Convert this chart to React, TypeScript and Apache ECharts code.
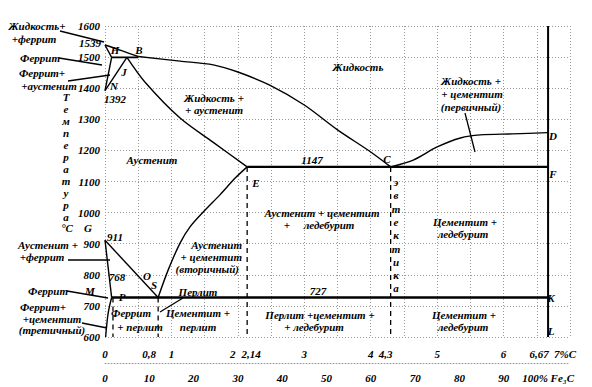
import React, { useEffect, useRef } from "react";
import * as echarts from "echarts";

// ---- data (x = %C, y = °C) ----
const liquidusAB = [[0, 1539], [0.25, 1521], [0.5, 1502]];
const liquidusBC = [[0.5, 1502], [1.13, 1487], [1.63, 1475], [2.0, 1452], [2.48, 1410], [3.0, 1346], [3.5, 1266], [4.0, 1195], [4.3, 1147]];
const liquidusCD = [[4.3, 1147], [4.64, 1169], [5.0, 1211], [5.35, 1240], [5.65, 1250], [6.14, 1253], [6.67, 1257]];
const lineAH = [[0, 1539], [0.1, 1499]];
const lineHN = [[0.1, 1499], [0, 1392]];
const lineHB = [[0.1, 1499], [0.5, 1499]];
const lineJN = [[0.33, 1499], [0, 1392]];
const solidusJE = [[0.33, 1499], [0.6, 1420], [1.13, 1304], [1.63, 1226], [2.14, 1147]];
const eutecticEF = [[2.14, 1147], [6.67, 1147]];
const eutectoidPK = [[0.1, 727], [6.67, 727]];
const lineGS = [[0, 911], [0.8, 727]];
const lineGP = [[0, 911], [0.1, 727]];
const linePQ = [[0.1, 727], [0.05, 680], [0.02, 625], [0.01, 600]];
const lineSE = [[0.8, 727], [0.95, 815], [1.13, 902], [1.28, 954], [1.48, 1002], [1.73, 1057], [1.96, 1111], [2.14, 1147]];
const cementiteDL = [[6.67, 1600], [6.67, 600]];
const dashedLines = [
  [[0.12, 727], [0.12, 600]],
  [[0.8, 727], [0.8, 600]],
  [[2.14, 1147], [2.14, 600]],
  [[4.3, 1147], [4.3, 600]],
];

const carbonTicks = [0, 0.8, 1, 2, 2.14, 3, 4, 4.3, 5, 6, 6.67, 7];
const carbonTickLabels = ["0", "0,8", "1", "2", "2,14", "3", "4", "4,3", "5", "6", "6,67", "7%C"];
const fe3cTicks = [0, 10, 20, 30, 40, 50, 60, 70, 80, 90, 100];
const fe3cTickLabels = ["0", "10", "20", "30", "40", "50", "60", "70", "80", "90", "100% Fe₃C"];
const tempTicks = [600, 700, 800, 900, 1000, 1100, 1200, 1300, 1400, 1500, 1600];

const FONT_FAMILY = "'Liberation Serif', 'Times New Roman', serif";
const FONT = `italic bold 11px ${FONT_FAMILY}`;

function txt(text: string, x: number, y: number, align = "center") {
  return {
    type: "text",
    x,
    y,
    z: 100,
    silent: true,
    style: {
      text,
      font: FONT,
      fill: "#000",
      align,
      verticalAlign: "middle",
      textAlign: align,
      textVerticalAlign: "middle",
    },
  };
}
function ln(x1: number, y1: number, x2: number, y2: number) {
  return {
    type: "line",
    z: 100,
    silent: true,
    shape: { x1, y1, x2, y2 },
    style: { stroke: "#000", lineWidth: 1.3 },
  };
}

const tempWord = ["Т", "е", "м", "п", "е", "р", "а", "т", "у", "р", "а"];
const eutWord = ["э", "в", "т", "е", "к", "т", "и", "к", "а"];

export default function App() {
  const ref = useRef<HTMLDivElement>(null);
  useEffect(() => {
    document.body.style.margin = "0";
    const chart = echarts.init(ref.current!, null, { renderer: "svg" });
    const mk = (data: number[][], width = 1.4, smooth: any = false, type: any = "solid") => ({
      type: "line",
      data,
      symbol: "none",
      smooth,
      silent: true,
      lineStyle: { color: "#000", width, type },
      xAxisIndex: 0,
      yAxisIndex: 0,
    });
    const graphic: any[] = [];
    // region labels
    graphic.push(txt("Жидкость", 358, 67));
    graphic.push(txt("Жидкость +", 214, 98));
    graphic.push(txt("+ аустенит", 214, 110));
    graphic.push(txt("Аустенит", 152, 160));
    graphic.push(txt("1147", 312, 160));
    graphic.push(txt("Жидкость +", 471, 81));
    graphic.push(txt("+ цементит", 472, 94));
    graphic.push(txt("(первичный)", 471, 107));
    graphic.push(ln(465, 113, 475, 152));
    graphic.push(txt("Аустенит + цементит", 322, 213));
    graphic.push(txt("+     ледебурит", 319, 225));
    graphic.push(txt("Цементит +", 465, 222));
    graphic.push(txt("ледебурит", 463, 234));
    graphic.push(txt("Аустенит", 242, 245, "right"));
    graphic.push(txt("+ цементит", 242, 257, "right"));
    graphic.push(txt("(вторичный)", 239, 269, "right"));
    graphic.push(txt("Перлит", 198, 292));
    graphic.push(ln(183, 298, 160, 312));
    graphic.push(txt("727", 318, 291));
    graphic.push(txt("Феррит", 131, 313));
    graphic.push(txt("+ перлит", 140, 327));
    graphic.push(txt("Цементит +", 198, 313));
    graphic.push(txt("перлит", 198, 327));
    graphic.push(txt("Перлит +цементит +", 320, 315));
    graphic.push(txt("+ ледебурит", 314, 327));
    graphic.push(txt("Цементит +", 464, 315));
    graphic.push(txt("ледебурит", 463, 327));
    // point letters / values
    graphic.push(txt("H", 115, 50));
    graphic.push(txt("B", 139, 50));
    graphic.push(txt("J", 124, 72));
    graphic.push(txt("N", 114, 86));
    graphic.push(txt("1392", 115, 99));
    graphic.push(txt("1539", 90, 43));
    graphic.push(txt("E", 256, 183));
    graphic.push(txt("C", 387, 159));
    graphic.push(txt("D", 553, 136));
    graphic.push(txt("F", 553, 174));
    graphic.push(txt("K", 551, 298));
    graphic.push(txt("L", 551, 331));
    graphic.push(txt("G", 88, 228));
    graphic.push(txt("911", 115, 237));
    graphic.push(txt("768", 117, 277));
    graphic.push(txt("O", 147, 276));
    graphic.push(txt("S", 154, 285));
    graphic.push(txt("M", 90, 291));
    graphic.push(txt("P", 122, 297));
    // left labels with leaders
    graphic.push(txt("Жидкость+", 37, 26));
    graphic.push(txt("+феррит", 34, 39));
    graphic.push(ln(60, 31, 104, 42));
    graphic.push(txt("Феррит", 40, 58));
    graphic.push(ln(59, 58, 102, 65));
    graphic.push(txt("Феррит+", 42, 73));
    graphic.push(txt("+аустенит", 49, 86));
    graphic.push(ln(68, 81, 110, 75));
    graphic.push(txt("Аустенит +", 48, 245));
    graphic.push(txt("+феррит", 42, 257));
    graphic.push(ln(68, 260, 110, 260));
    graphic.push(txt("Феррит", 48, 291));
    graphic.push(ln(67, 291, 108, 298));
    graphic.push(txt("Феррит+", 43, 307));
    graphic.push(txt("+цементит", 52, 319));
    graphic.push(txt("(третичный)", 52, 330));
    graphic.push(ln(82, 323, 107, 328));
    // vertical words
    tempWord.forEach((ch, i) => graphic.push(txt(ch, 66, 97 + i * 12)));
    graphic.push(txt("°C", 67, 228));
    eutWord.forEach((ch, i) => graphic.push(txt(ch, 396, 182 + i * 13.3)));

    const labelStyle = { fontFamily: FONT_FAMILY, fontStyle: "italic", fontWeight: "bold", fontSize: 11, color: "#000" };
    const gridLine = { show: true, lineStyle: { color: "#999", type: [1, 2], width: 1 } };

    chart.setOption({
      animation: false,
      textStyle: { fontFamily: FONT_FAMILY },
      grid: { left: 105, right: 22, top: 26, bottom: 50 },
      xAxis: [
        {
          type: "value",
          min: 0,
          max: 7,
          interval: 0.5,
          axisLine: { show: false },
          axisTick: { show: false },
          splitLine: gridLine,
          axisLabel: {
            ...labelStyle,
            margin: 11,
            customValues: carbonTicks,
            formatter: (v: number) => {
              const i = carbonTicks.findIndex((t) => Math.abs(t - v) < 1e-6);
              const s = i >= 0 ? carbonTickLabels[i] : "";
              if (s === "0,8") return "{l|" + s + "}";
              if (s === "6,67") return "{m|" + s + "}";
              if (s === "2") return "{a|" + s + "}";
              if (s === "2,14") return "{b|" + s + "}";
              if (s === "4,3") return "{a|" + s + "}";
              if (s === "7%C") return "{a|" + s + "}";
              return s;
            },
            rich: {
              l: { ...labelStyle, padding: [0, 18, 0, 0] },
              m: { ...labelStyle, padding: [0, 18, 0, 0] },
              a: { ...labelStyle, padding: [0, 10, 0, 0] },
              b: { ...labelStyle, padding: [0, 0, 0, 8] },
            },
          },
        },
        {
          type: "value",
          min: 0,
          max: 700 / 6.67,
          position: "bottom",
          offset: 26,
          axisLine: { show: true, lineStyle: { color: "#999", type: [1, 2], width: 1 } },
          axisTick: { show: false },
          splitLine: { show: false },
          axisLabel: {
            ...labelStyle,
            margin: 9,
            customValues: fe3cTicks,
            formatter: (v: number) => {
              const i = fe3cTicks.findIndex((t) => Math.abs(t - v) < 1e-6);
              return i >= 0 ? fe3cTickLabels[i] : "";
            },
          },
        },
      ],
      yAxis: {
        type: "value",
        min: 600,
        max: 1600,
        interval: 100,
        axisLine: { show: false },
        axisTick: { show: false },
        splitLine: gridLine,
        axisLabel: {
          ...labelStyle,
          margin: 5,
          customValues: tempTicks,
          formatter: (v: number) => String(v),
        },
      },
      series: [
        mk(liquidusAB, 1.4, 0.4),
        mk(liquidusBC, 1.4, 0.3),
        mk(liquidusCD, 1.4, 0.3),
        mk(lineAH),
        mk(lineHN),
        mk(lineHB, 1.6),
        mk(lineJN),
        mk(solidusJE, 1.4, 0.3),
        mk(eutecticEF, 2.4),
        mk(eutectoidPK, 2.6),
        mk(lineGS),
        mk(lineGP),
        mk(linePQ, 1.4, 0.4),
        mk(lineSE, 1.4, 0.3),
        mk(cementiteDL, 2),
        ...dashedLines.map((d) => mk(d, 1.3, false, [5, 4])),
      ],
      graphic,
    });
    return () => chart.dispose();
  }, []);
  return <div ref={ref} style={{ width: 592, height: 387 }} />;
}
